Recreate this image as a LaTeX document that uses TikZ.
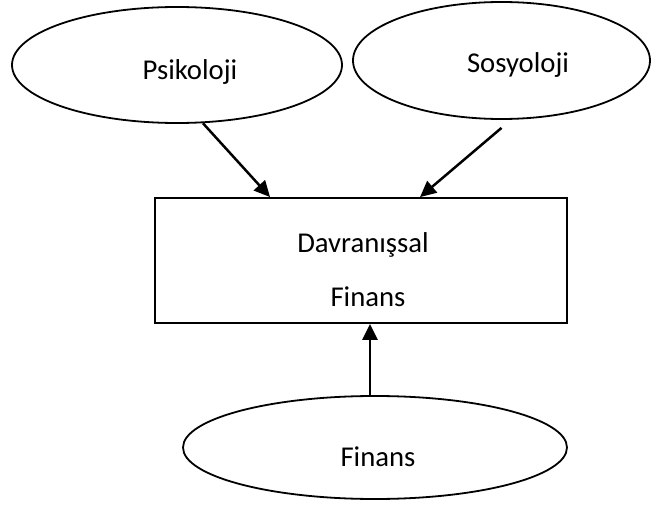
\documentclass[tikz,border=0pt]{standalone}
\usepackage{fontspec}
\setmainfont{Carlito}
\usetikzlibrary{arrows.meta,shapes.geometric}
\begin{document}
\begin{tikzpicture}[x=1pt,y=-1pt,
  oval/.style={draw,ellipse,line width=1.8pt,inner sep=0pt},
  box/.style={draw,rectangle,line width=1.9pt,inner sep=0pt},
  lbl/.style={anchor=base,inner sep=0pt,font=\fontsize{28.7}{34}\selectfont},
  arr/.style={line width=2.5pt,-{Triangle[length=16pt,width=15pt]}}]
\useasboundingbox (0,0) rectangle (651,505);
\node[oval,minimum width=330pt,minimum height=116pt] (psi) at (177,65) {};
\node[oval,minimum width=297pt,minimum height=117pt] (sos) at (501.5,60.5) {};
\node[box,minimum width=412pt,minimum height=125pt] (rect) at (361,260.5) {};
\node[oval,minimum width=384pt,minimum height=103pt] (fin) at (375,447.5) {};
\node[lbl] (psiT) at (190,80) {Psikoloji};
\node[lbl] (sosT) at (518,73) {Sosyoloji};
\node[lbl] (davT) at (363,253) {Davranışsal};
\node[lbl] (finT) at (368,306) {Finans};
\node[lbl] (finE) at (378,466) {Finans};
\draw[arr] (psi.-66) -- ([xshift=116pt]rect.north west);
\draw[arr] ([yshift=-8pt]sos.south) -- ([xshift=266pt]rect.north west);
\draw[arr] ([xshift=-5pt]fin.north) -- ([xshift=9pt]rect.south);
\end{tikzpicture}
\end{document}
